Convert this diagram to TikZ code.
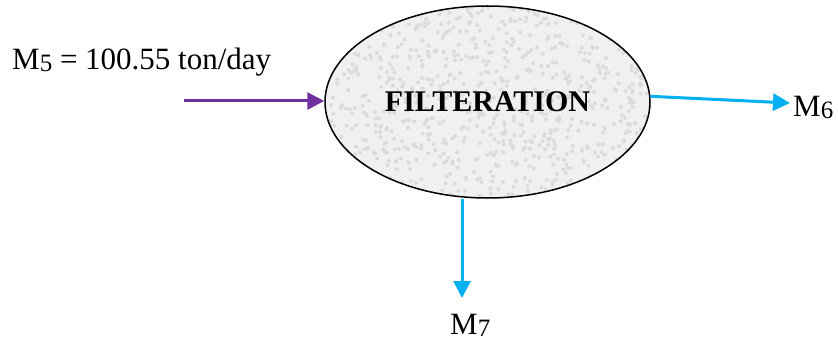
\documentclass[tikz,border=0pt]{standalone}
\usepackage{fontspec}
\setmainfont{Liberation Serif}
\usetikzlibrary{arrows.meta,shapes.geometric,calc}
\definecolor{violet5}{RGB}{112,48,160}
\definecolor{bleu}{RGB}{0,176,240}
\tikzset{epais/.style={line width=3pt,-{Triangle[length=17pt,width=17pt]}}}
\newcommand{\taille}[0]{\fontsize{31}{36}\selectfont}
\newcommand{\indice}[1]{\raisebox{-2pt}{\fontsize{25}{28}\selectfont #1}}
\newcommand{\flux}[3]{\draw[epais,#1] (#2) -- (#3)}
\newcommand{\grain}[0]{\pgfmathsetseed{7}
 	\foreach \i in {1,...,900}
 	\fill[black!14] ($(path picture bounding box.center)+(rand*165,rand*98)$) circle (2pt)}

\begin{document}
\begin{tikzpicture}[x=1pt,y=-1pt]
\useasboundingbox (0,0) rectangle (838,342);
%The filter
	\node[ellipse,draw,line width=1.5pt,fill=black!6,minimum width=325pt,minimum height=192pt,
		path picture={\grain;},font=\fontsize{30}{34}\selectfont\bfseries] (filtre) at (487.5,102) {FILTERATION};
%Input
	\coordinate (in5) at (184,101);
	\node[anchor=base west,font=\taille,inner sep=0pt] (m5) at (12,70) {M\indice{5} = 100.55 ton/day};
	\flux{violet5}{in5}{in5 -| filtre.west};
%Outputs
	\coordinate (out6) at (790,103);
	\node[anchor=base west,font=\taille,inner sep=0pt] (m6) at (793,117) {M\indice{6}};
	\flux{bleu}{filtre.2}{out6};
	\coordinate (out7) at (462,298);
	\node[anchor=base west,font=\taille,inner sep=0pt] (m7) at (450,334) {M\indice{7}};
	\flux{bleu}{out7 |- filtre.south}{out7};
\end{tikzpicture}
\end{document}
